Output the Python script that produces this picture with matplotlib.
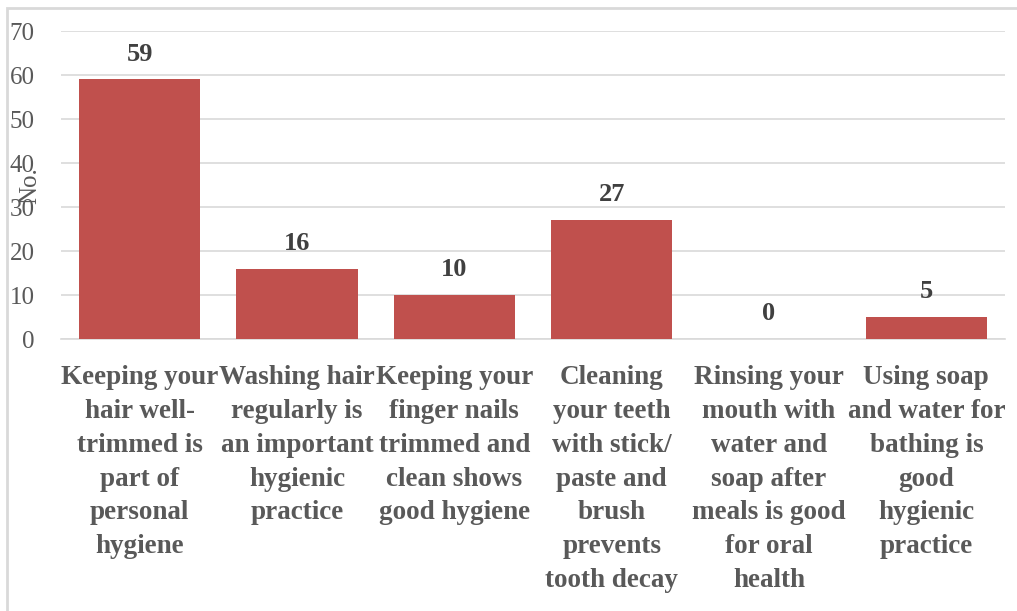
import matplotlib
matplotlib.use("Agg")
import matplotlib.pyplot as plt
from matplotlib.patches import Rectangle

categories = [
    "Keeping your\nhair well-\ntrimmed is\npart of\npersonal\nhygiene",
    "Washing hair\nregularly is\nan important\nhygienic\npractice",
    "Keeping your\nfinger nails\ntrimmed and\nclean shows\ngood hygiene",
    "Cleaning\nyour teeth\nwith stick/\npaste and\nbrush\nprevents\ntooth decay",
    "Rinsing your\nmouth with\nwater and\nsoap after\nmeals is good\nfor oral\nhealth",
    "Using soap\nand water for\nbathing is\ngood\nhygienic\npractice",
]
values = [59, 16, 10, 27, 0, 5]
yticks = [0, 10, 20, 30, 40, 50, 60, 70]

W, H = 1017, 611
fig = plt.figure(figsize=(W / 100, H / 100), dpi=100)
fam = ["Liberation Serif", "DejaVu Serif"]

left, right = 61 / W, 1005 / W
bottom, top = 1 - 339 / H, 1 - 31 / H
ax = fig.add_axes([left, bottom, right - left, top - bottom])

bar_color = "#C0504D"
x = list(range(len(values)))
ax.bar(x, values, width=0.77, color=bar_color, zorder=3)
ax.set_xlim(-0.5, len(values) - 0.5)
ax.set_ylim(0, 70)
ax.set_yticks(yticks)
ax.set_yticklabels([str(t) for t in yticks], fontfamily=fam, fontsize=18, color="#595959")
ax.tick_params(axis="y", length=0, pad=19)
ax.tick_params(axis="x", length=0, pad=19)
ax.set_xticks(x)
ax.set_xticklabels(categories, fontfamily=fam, fontsize=19.5, fontweight="bold",
                   color="#595959", linespacing=1.46, va="top")
ax.grid(axis="y", color="#D9D9D9", linewidth=1.2, zorder=0)
for s in ["top", "right", "left"]:
    ax.spines[s].set_visible(False)
ax.spines["bottom"].set_color("#D9D9D9")
ax.spines["bottom"].set_linewidth(1.2)

for xi, v in zip(x, values):
    ax.annotate(str(v), (xi, v), xytext=(0, 10), textcoords="offset points",
                ha="center", va="bottom", fontfamily=fam, fontsize=19,
                fontweight="bold", color="#404040")

fig.text(30 / W, 1 - 186 / H, "No.", rotation=90, ha="center", va="center",
         fontfamily=fam, fontsize=18, color="#595959")

fig.add_artist(Rectangle((7 / W, -0.01), 1.0, 1 - 8 / H + 0.01, transform=fig.transFigure,
                         fill=False, edgecolor="#D9D9D9", linewidth=2))

fig.savefig("out.png", dpi=100)
